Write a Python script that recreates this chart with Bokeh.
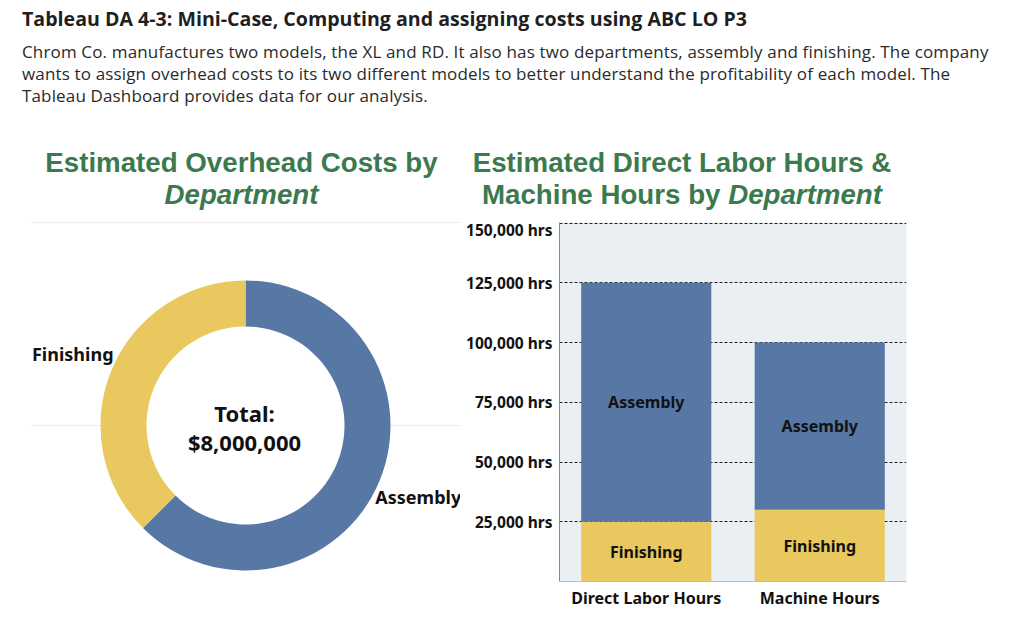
import math
from bokeh.plotting import figure
from bokeh.models import Range1d, FactorRange, FixedTicker, Div, ColumnDataSource
from bokeh.layouts import column, row
from bokeh.embed import file_html
from bokeh.resources import INLINE
from bokeh.core.properties import value

# ---------------- data ----------------
departments = ["Assembly", "Finishing"]
overhead_costs = [5000000, 3000000]
hour_types = ["Direct Labor Hours", "Machine Hours"]
assembly_hours = [100000, 70000]
finishing_hours = [25000, 30000]
y_ticks = [25000, 50000, 75000, 100000, 125000, 150000]

BLUE = "#5778a4"
YELLOW = "#e8c85f"
GREEN = "#3b7a4f"
LABEL_FONT = "Noto Sans"

# ---------------- header ----------------
header = Div(
    width=1008, height=115, margin=0,
    text=(
        '<div style="font-family:\'Open Sans\';color:#1f1f1f;padding-left:14px;">'
        '<div style="font-size:19.6px;font-weight:bold;line-height:22px;white-space:nowrap;">'
        'Tableau DA 4-3: Mini-Case, Computing and assigning costs using ABC LO P3</div>'
        '<div style="font-size:17px;letter-spacing:0.15px;line-height:22px;margin-top:11px;white-space:nowrap;color:#2a2a2a;">'
        'Chrom Co. manufactures two models, the XL and RD. It also has two departments, assembly and finishing. The company<br>'
        'wants to assign overhead costs to its two different models to better understand the profitability of each model. The<br>'
        'Tableau Dashboard provides data for our analysis.</div></div>'
    ),
)

HEAD_STYLE = ("font-family:'Liberation Sans',Arial,sans-serif;font-weight:bold;font-size:27.7px;"
              "line-height:32px;color:%s;text-align:center;padding-top:24px;white-space:nowrap;" % GREEN)
left_head = Div(width=452, height=95, margin=0, text=(
    '<div style="%s width:452px;box-sizing:border-box;padding-left:15px;">'
    'Estimated Overhead Costs by<br><i>Department</i></div>' % HEAD_STYLE))
right_head = Div(width=556, height=95, margin=0, text=(
    '<div style="%s width:556px;box-sizing:border-box;padding-right:112px;">'
    'Estimated Direct Labor Hours &amp;<br>Machine Hours by <i>Department</i></div>' % HEAD_STYLE))

# ---------------- donut ----------------
FIG_H = 406
p1 = figure(width=452, height=FIG_H, x_range=Range1d(0, 452), y_range=Range1d(0, FIG_H),
            output_backend="svg", toolbar_location=None, margin=0,
            min_border=0, min_border_left=0, min_border_right=0, min_border_top=0, min_border_bottom=0)
p1.axis.visible = False
p1.grid.visible = False
p1.outline_line_color = None

cx, cy = 237, 199
r_out, r_in, r_lab = 145, 99, 187

# faint separator lines (dashboard artifacts)
p1.segment(x0=[22, 22, cx + r_out], y0=[FIG_H - 4, cy, cy], x1=[452, cx - r_out, 452], y1=[FIG_H - 4, cy, cy],
           line_color="#ececec", line_width=1)

total = sum(overhead_costs)
starts, ends, mids = [], [], []
cum = 0.0
for v in overhead_costs:
    s = math.pi / 2 - 2 * math.pi * cum / total
    e = math.pi / 2 - 2 * math.pi * (cum + v) / total
    starts.append(s)
    ends.append(e)
    mids.append((s + e) / 2)
    cum += v

dsrc = ColumnDataSource(dict(
    dept=departments, start=starts, end=ends,
    color=[BLUE, YELLOW],
    lx=[cx + r_lab * math.cos(m) for m in mids],
    ly=[cy + r_lab * math.sin(m) for m in mids],
))
p1.annular_wedge(x=cx, y=cy, inner_radius=r_in, outer_radius=r_out, start_angle="start", end_angle="end",
                 direction="clock", color="color", line_color=None, source=dsrc)
p1.text(x="lx", y="ly", text="dept", source=dsrc, text_align="center", text_baseline="middle",
        text_font=value(LABEL_FONT), text_font_style="bold", text_font_size="18px", text_color="#111111")

p1.text(x=[cx - 1, cx - 1], y=[cy + 13, cy - 16], text=["Total:", "${:,}".format(total)],
        text_align="center", text_baseline="middle", text_font=value(LABEL_FONT),
        text_font_style="bold", text_font_size="22px", text_color="#111111")

# ---------------- stacked bars ----------------
p2 = figure(width=556, height=FIG_H, x_range=FactorRange(factors=hour_types), y_range=Range1d(0, 150250),
            output_backend="svg", toolbar_location=None, margin=0,
            min_border_left=99, min_border_right=110, min_border_top=4, min_border_bottom=43)
p2.background_fill_color = "#e9eff3"
p2.border_fill_color = "white"
p2.outline_line_color = None

bsrc = ColumnDataSource(dict(
    hour_type=hour_types, Finishing=finishing_hours, Assembly=assembly_hours,
    fin_mid=[f / 2 for f in finishing_hours],
    asm_mid=[f + a / 2 for f, a in zip(finishing_hours, assembly_hours)],
    fin_lab=["Finishing"] * len(hour_types), asm_lab=["Assembly"] * len(hour_types),
))
p2.vbar_stack(["Finishing", "Assembly"], x="hour_type", width=0.75, color=[YELLOW, BLUE],
              line_color=None, source=bsrc)
for ycol, tcol in (("fin_mid", "fin_lab"), ("asm_mid", "asm_lab")):
    p2.text(x="hour_type", y=ycol, text=tcol, source=bsrc, text_align="center", text_baseline="middle",
            text_font=value(LABEL_FONT), text_font_style="bold", text_font_size="16px", text_color="#111111")

p2.xgrid.visible = False
p2.ygrid.ticker = FixedTicker(ticks=y_ticks)
p2.ygrid.grid_line_color = "#222222"
p2.ygrid.grid_line_dash = "3 2"
p2.ygrid.grid_line_width = 1

p2.yaxis.ticker = FixedTicker(ticks=y_ticks)
p2.yaxis.major_label_overrides = {t: "{:,} hrs".format(t) for t in y_ticks}
p2.yaxis.major_tick_line_color = None
p2.yaxis.minor_tick_line_color = None
p2.yaxis.major_tick_out = 0
p2.yaxis.major_label_standoff = 7
p2.yaxis.axis_line_color = "#8a8a8a"
p2.yaxis.major_label_text_font = LABEL_FONT
p2.yaxis.major_label_text_font_style = "bold"
p2.yaxis.major_label_text_font_size = "15.5px"
p2.yaxis.major_label_text_color = "#111111"

p2.xaxis.major_tick_line_color = None
p2.xaxis.major_tick_out = 0
p2.xaxis.major_label_standoff = 5
p2.xaxis.axis_line_color = "#bdbdbd"
p2.xaxis.major_label_text_font = LABEL_FONT
p2.xaxis.major_label_text_font_style = "bold"
p2.xaxis.major_label_text_font_size = "16px"
p2.xaxis.major_label_text_color = "#111111"

layout = column(header, row(column(left_head, p1), column(right_head, p2)), margin=(8, 0, 0, 8))

with open("out.html", "w") as f:
    f.write(file_html(layout, INLINE))
